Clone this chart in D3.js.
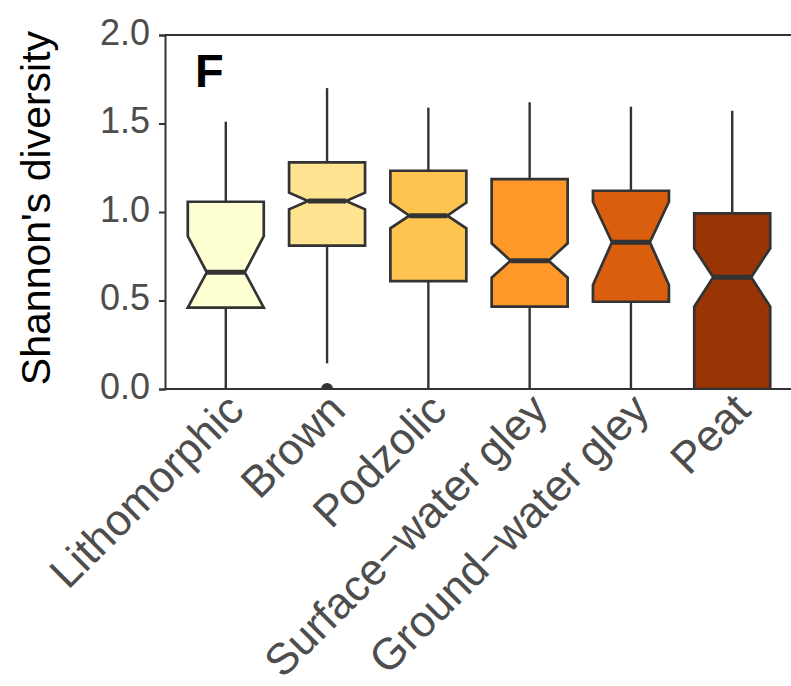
<!DOCTYPE html>
<html>
<head>
<meta charset="utf-8">
<script src="https://cdn.jsdelivr.net/npm/d3@7"></script>
<style>
  body { margin: 0; background: #fff; }
  svg { display: block; font-family: 'Liberation Sans', Arial, sans-serif; }
</style>
</head>
<body>
<svg id="chart"></svg>
<script>
const categories = ['Lithomorphic', 'Brown', 'Podzolic', 'Surface\u2212water gley', 'Ground\u2212water gley', 'Peat'];
const whiskerLow = [0, 0.145, 0, 0, 0, 0];
const q1 = [0.46, 0.81, 0.61, 0.465, 0.493, 0];
const notchLow = [0.46, 1.015, 0.908, 0.629, 0.588, 0.465];
const median = [0.659, 1.062, 0.979, 0.725, 0.829, 0.631];
const notchHigh = [0.864, 1.109, 1.053, 0.823, 1.058, 0.795];
const q3 = [1.058, 1.28, 1.233, 1.186, 1.12, 0.992];
const whiskerHigh = [1.51, 1.70, 1.59, 1.62, 1.595, 1.572];
const outliers = [{ cat: 'Brown', value: 0.0 }];
const yTicks = [0, 0.5, 1.0, 1.5, 2.0];
const fills = ['#FFFFD4', '#FEE391', '#FEC44F', '#FE9929', '#D95F0E', '#993404'];

const W = 791, H = 686;
const margin = { top: 35, right: -2, bottom: 297, left: 165 };
const width = W - margin.left - margin.right;
const height = H - margin.top - margin.bottom;
const ink = '#333333';

const svgEl = d3.select('#chart').attr('width', W).attr('height', H);
const svg = svgEl.append('g').attr('transform', `translate(${margin.left},${margin.top})`);

const x = d3.scalePoint().domain(categories).range([0, width]).padding(0.6);
const y = d3.scaleLinear().domain([0, 2]).range([height, 0]);
const color = d3.scaleOrdinal().domain(categories).range(fills);
const boxW = x.step() * 0.75;

const data = categories.map((cat, i) => ({
  cat,
  lo: whiskerLow[i], q1: q1[i], nlo: notchLow[i], med: median[i],
  nhi: notchHigh[i], q3: q3[i], hi: whiskerHigh[i],
}));

svgEl.append('defs').append('clipPath').attr('id', 'panel')
  .append('rect').attr('x', 0).attr('y', 0).attr('width', width).attr('height', height);

const plot = svg.append('g').attr('clip-path', 'url(#panel)');

const boxes = plot.selectAll('g.box').data(data).join('g')
  .attr('class', 'box')
  .attr('transform', (d) => `translate(${x(d.cat)},0)`);

// whiskers
boxes.append('line')
  .attr('x1', 0).attr('x2', 0)
  .attr('y1', (d) => y(d.hi)).attr('y2', (d) => y(d.q3))
  .attr('stroke', ink).attr('stroke-width', 2.4);
boxes.append('line')
  .attr('x1', 0).attr('x2', 0)
  .attr('y1', (d) => y(d.q1)).attr('y2', (d) => y(d.lo))
  .attr('stroke', ink).attr('stroke-width', 2.4);

// notched box
const half = boxW / 2;
const inset = boxW / 4;
boxes.append('path')
  .attr('d', (d) => d3.line()([
    [-half, y(d.q3)], [-half, y(d.nhi)], [-half + inset, y(d.med)], [-half, y(d.nlo)], [-half, y(d.q1)],
    [half, y(d.q1)], [half, y(d.nlo)], [half - inset, y(d.med)], [half, y(d.nhi)], [half, y(d.q3)],
  ]) + 'Z')
  .attr('fill', (d) => color(d.cat))
  .attr('stroke', ink).attr('stroke-width', 2.7)
  .attr('stroke-linejoin', 'miter');

boxes.append('line')
  .attr('x1', -half + inset).attr('x2', half - inset)
  .attr('y1', (d) => y(d.med)).attr('y2', (d) => y(d.med))
  .attr('stroke', ink).attr('stroke-width', 5);

plot.selectAll('circle.out').data(outliers).join('circle')
  .attr('class', 'out')
  .attr('cx', (d) => x(d.cat)).attr('cy', (d) => y(d.value))
  .attr('r', 6).attr('fill', ink);

// panel lines
svg.append('line').attr('x1', 0).attr('x2', width + 10).attr('y1', 0).attr('y2', 0)
  .attr('stroke', ink).attr('stroke-width', 2);
svg.append('line').attr('x1', 0).attr('x2', width + 10).attr('y1', height).attr('y2', height)
  .attr('stroke', ink).attr('stroke-width', 2);

// y axis
const yAxis = svg.append('g')
  .call(d3.axisLeft(y).tickValues(yTicks).tickFormat(d3.format('.1f')).tickSize(6).tickPadding(9));
yAxis.select('.domain').attr('stroke', ink).attr('stroke-width', 2);
yAxis.selectAll('.tick line').attr('stroke', ink).attr('stroke-width', 2);
yAxis.selectAll('.tick text')
  .attr('fill', '#4d4d4d').attr('dy', '0.25em')
  .style('font-size', '36px').style('font-family', 'Liberation Sans, Arial, sans-serif');

// x labels
svg.append('g').selectAll('text').data(categories).join('text')
  .attr('transform', (d) => `translate(${x(d) - 2},${height + 1}) rotate(-45)`)
  .attr('text-anchor', 'end')
  .attr('dy', '0.72em')
  .attr('fill', '#4d4d4d')
  .style('font-size', '44px')
  .text((d) => d);

// y title
svg.append('text')
  .attr('transform', `translate(${50 - margin.left},${height / 2 - 4}) rotate(-90)`)
  .attr('text-anchor', 'middle')
  .attr('fill', '#000')
  .style('font-size', '41px')
  .text("Shannon's diversity");

// panel tag
svg.append('text')
  .attr('x', 30).attr('y', 52)
  .attr('fill', '#000')
  .style('font-size', '47px')
  .style('font-weight', 'bold')
  .text('F');
</script>
</body>
</html>
